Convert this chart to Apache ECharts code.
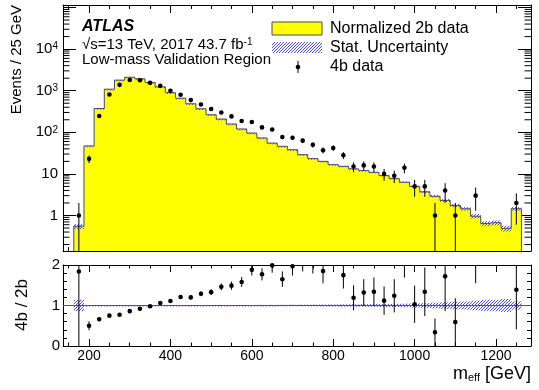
<!DOCTYPE html>
<html>
<head>
<meta charset="utf-8">
<script src="https://cdn.jsdelivr.net/npm/echarts@6/dist/echarts.min.js"></script>
<style>
  html, body { margin: 0; padding: 0; background: #fff; }
  #chart { width: 539px; height: 390px; }
</style>
</head>
<body>
<div id="chart"></div>
<script>
// m_eff bin centres (25 GeV bins)
const binCenters = [175, 200, 225, 250, 275, 300, 325, 350, 375, 400, 425, 450, 475, 500, 525, 550, 575, 600, 625, 650, 675, 700,
  725, 750, 775, 800, 825, 850, 875, 900, 925, 950, 975, 1000, 1025, 1050, 1075, 1100, 1125, 1150, 1175, 1200, 1225, 1250];
// normalized 2b data (yellow histogram)
const hist2b = [0.55, 47, 374, 1087, 1796, 2108, 1930, 1582, 1238, 896, 660, 485, 368, 264, 208, 158, 120, 96, 73, 55, 46, 38,
  29, 23.3, 20, 16.7, 15.2, 13.2, 12, 10.9, 9.1, 7.7, 6.3, 5.0, 3.7, 2.9, 2.3, 1.74, 1.45, 0.96, 0.64, 0.67, 0.49, 1.45];
// relative stat. uncertainty of the 2b histogram
const statRelErr = [0.14, 0.012, 0.012, 0.012, 0.012, 0.012, 0.012, 0.012, 0.012, 0.012, 0.012, 0.012, 0.012, 0.012, 0.012, 0.012, 0.012, 0.012,
  0.014, 0.015, 0.016, 0.018, 0.02, 0.022, 0.024, 0.026, 0.028, 0.03, 0.032, 0.034, 0.037, 0.04, 0.045, 0.05, 0.06, 0.07, 0.08, 0.09,
  0.1, 0.12, 0.14, 0.14, 0.16, 0.1];
// 4b data points
const data4b = [1, 23, 246, 811, 1385, 1810, 1780, 1546, 1312, 995, 798, 595, 467, 362, 300, 241, 187, 177, 131, 117, 77, 74,
  63, 50, 37, 42, 28, 15, 16, 15, 10, 9, 14, 5, 5, 1, 4, 1, 0, 3, 0, 0, 0, 2];
const data4bErr = [1, 4.8, 16, 28, 37, 43, 42, 39, 36, 32, 28, 24, 22, 19, 17, 16, 14, 13, 11, 11, 9, 8.6,
  7.9, 7.1, 6.1, 6.5, 5.3, 3.9, 4, 3.9, 3.2, 3, 3.7, 2.2, 2.2, 1, 2, 1, 0, 1.7, 0, 0, 0, 1.4];
// ratio panel 4b / 2b
const ratio = [1.84, 0.50, 0.66, 0.75, 0.77, 0.86, 0.92, 0.98, 1.06, 1.11, 1.21, 1.20, 1.29, 1.33, 1.46, 1.49, 1.58, 1.88, 1.77, 1.99, 1.65, 1.97,
  2.17, 2.17, 1.85, 2.5, 1.75, 1.19, 1.32, 1.34, 1.12, 1.24, 2.29, 1.03, 1.34, 0.34, 1.72, 0.59, null, 3.1, null, null, null, 1.39];
const ratioErr = [1.84, 0.11, 0.045, 0.03, 0.025, 0.02, 0.025, 0.025, 0.03, 0.035, 0.045, 0.05, 0.06, 0.07, 0.085, 0.1, 0.12, 0.14, 0.15, 0.18, 0.19, 0.23,
  0.33, 0.38, 0.3, 0.39, 0.33, 0.31, 0.33, 0.35, 0.35, 0.41, 0.6, 0.46, 0.6, 0.34, 0.86, 0.59, 0, 1.55, 0, 0, 0, 0.98];
// axis ticks
const xMajorTicks = [200, 400, 600, 800, 1000, 1200];
const xMinorTicks = [150, 250, 300, 350, 450, 500, 550, 650, 700, 750, 850, 900, 950, 1050, 1100, 1150, 1250];
const logDecades = [0.1, 1, 10, 100, 1000, 10000];
const logMinorSteps = [2, 3, 4, 5, 6, 7, 8, 9];

const binWidth = 25;
const xMin = 136, xMax = 1286;
const yMin = 0.14, yMax = 1.15e5;
const FONT = '"Liberation Sans", Arial, sans-serif';
const HIST_LINE = '#4a4a5a';
const HATCH_BLUE = 'rgb(70, 70, 255)';

// blue "////" hatch, drawn pixel by pixel so it stays crisp
function makeHatch() {
  const c = document.createElement('canvas');
  c.width = 3;
  c.height = 3;
  const ctx = c.getContext('2d');
  ctx.clearRect(0, 0, 3, 3);
  ctx.fillStyle = HATCH_BLUE;
  for (let k = 0; k < 3; k++) ctx.fillRect(k, 2 - k, 1, 1);
  return c;
}
const hatch = { image: makeHatch(), repeat: 'repeat' };

const logMinorValues = [];
logDecades.forEach(d => logMinorSteps.forEach(s => {
  const v = d * s;
  if (v > yMin && v < yMax) logMinorValues.push(v);
}));

const chart = echarts.init(document.getElementById('chart'), null, { renderer: 'canvas' });

function xAxisDef(grid, pos, ticks, len, showLine) {
  return {
    type: 'value', gridIndex: grid, position: pos, min: xMin, max: xMax,
    axisLine: { show: showLine, onZero: false, lineStyle: { color: '#000', width: 1 } },
    axisTick: { show: true, inside: true, length: len, customValues: ticks, lineStyle: { color: '#000', width: 1 } },
    axisLabel: { show: false },
    splitLine: { show: false }
  };
}

function logLabel(v) {
  const e = Math.round(Math.log10(v));
  if (Math.abs(Math.log10(v) - e) > 1e-6 || e < 0 || e > 4) return '';
  if (e === 0) return '1';
  if (e === 1) return '10';
  return '{b|10}{s|' + e + '}';
}

// step outline of the whole histogram, in pixel coords
function stepPoints(api, bottom) {
  const pts = [];
  hist2b.forEach((h, i) => {
    const l = api.coord([binCenters[i] - binWidth / 2, h]);
    const r = api.coord([binCenters[i] + binWidth / 2, h]);
    if (i === 0) pts.push([l[0], bottom]);
    pts.push(l, r);
    if (i === hist2b.length - 1) pts.push([r[0], bottom]);
  });
  return pts;
}

function renderHist(params, api) {
  const cs = params.coordSys;
  const pts = stepPoints(api, cs.y + cs.height);
  return {
    type: 'group',
    children: [
      { type: 'polygon', shape: { points: pts }, style: { fill: '#ffff00' } },
      { type: 'polyline', shape: { points: pts }, style: { stroke: HIST_LINE, lineWidth: 1, fill: null } }
    ]
  };
}

function renderBand(params, api) {
  const i = api.value(2);
  const centre = api.value(1);
  const e = statRelErr[i] * centre;
  const lo = api.coord([binCenters[i] - binWidth / 2, centre + e]);
  const hi = api.coord([binCenters[i] + binWidth / 2, centre - e]);
  return {
    type: 'rect',
    shape: { x: lo[0], y: lo[1], width: hi[0] - lo[0], height: Math.max(hi[1] - lo[1], 1.5) },
    style: { fill: hatch, stroke: null }
  };
}

function renderPoints(params, api) {
  const cs = params.coordSys;
  const x = api.value(0), y = api.value(1), e = api.value(2);
  const p = api.coord([x, y]);
  const top = Math.max(api.coord([x, y + e])[1], cs.y);
  let bot = y - e > 0 ? api.coord([x, y - e])[1] : cs.y + cs.height;
  bot = Math.min(bot, cs.y + cs.height);
  const children = [];
  if (bot > top) {
    children.push({ type: 'line', shape: { x1: p[0], y1: top, x2: p[0], y2: bot }, style: { stroke: '#000', lineWidth: 1 } });
  }
  if (p[1] >= cs.y && p[1] <= cs.y + cs.height) {
    children.push({ type: 'circle', shape: { cx: p[0], cy: p[1], r: 2.3 }, style: { fill: '#000' } });
  }
  return { type: 'group', children: children };
}

function renderLogMinor(params, api) {
  const cs = params.coordSys;
  const y = api.coord([xMin, api.value(1)])[1];
  const st = { stroke: '#000', lineWidth: 1 };
  return {
    type: 'group',
    children: [
      { type: 'line', shape: { x1: cs.x, y1: y, x2: cs.x + 6.5, y2: y }, style: st },
      { type: 'line', shape: { x1: cs.x + cs.width - 6.5, y1: y, x2: cs.x + cs.width, y2: y }, style: st }
    ]
  };
}

const histItems = binCenters.map((x, i) => [x, hist2b[i], i]);
const ratioBandItems = binCenters.map((x, i) => [x, 1, i]);
const pointItems = binCenters.map((x, i) => [x, data4b[i], data4bErr[i]]).filter(d => d[1] > 0);
const ratioItems = binCenters.map((x, i) => [x, ratio[i], ratioErr[i]]).filter(d => d[1] !== null);

const option = {
  animation: false,
  backgroundColor: '#fff',
  textStyle: { fontFamily: FONT },
  grid: [
    { left: 63, right: 8, top: 5, height: 246 },
    { left: 63, right: 8, top: 265, height: 81 }
  ],
  xAxis: [
    xAxisDef(0, 'bottom', xMajorTicks, 8, true),
    xAxisDef(0, 'bottom', xMinorTicks, 4, false),
    xAxisDef(0, 'top', xMajorTicks, 8, true),
    xAxisDef(0, 'top', xMinorTicks, 4, false),
    Object.assign(xAxisDef(1, 'bottom', xMajorTicks, 7, true), {
      axisLabel: {
        show: true, customValues: xMajorTicks, fontSize: 14, color: '#000', margin: 3, fontFamily: FONT,
        formatter: v => String(v)
      }
    }),
    xAxisDef(1, 'bottom', xMinorTicks, 3.5, false),
    xAxisDef(1, 'top', xMajorTicks, 7, true),
    xAxisDef(1, 'top', xMinorTicks, 3.5, false)
  ],
  yAxis: [
    {
      type: 'log', logBase: 10, gridIndex: 0, position: 'left', min: yMin, max: yMax,
      axisLine: { show: true, onZero: false, lineStyle: { color: '#000' } },
      axisTick: { show: true, inside: true, length: 13, lineStyle: { color: '#000' } },
      axisLabel: {
        formatter: logLabel, fontSize: 15, color: '#000', margin: 5, fontFamily: FONT,
        rich: { b: { fontSize: 15, fontFamily: FONT, verticalAlign: 'bottom' }, s: { fontSize: 10, fontFamily: FONT, verticalAlign: 'top' } }
      },
      splitLine: { show: false }
    },
    {
      type: 'log', logBase: 10, gridIndex: 0, position: 'right', min: yMin, max: yMax,
      axisLine: { show: true, onZero: false, lineStyle: { color: '#000' } },
      axisTick: { show: true, inside: true, length: 13, lineStyle: { color: '#000' } },
      axisLabel: { show: false },
      splitLine: { show: false }
    },
    {
      type: 'value', gridIndex: 1, position: 'left', min: 0, max: 2, interval: 1,
      axisLine: { show: true, onZero: false, lineStyle: { color: '#000' } },
      axisTick: { show: true, inside: true, length: 8, lineStyle: { color: '#000' } },
      minorTick: { show: true, splitNumber: 5, length: 4, lineStyle: { color: '#000' } },
      axisLabel: { fontSize: 15, color: '#000', margin: 3, fontFamily: FONT },
      splitLine: { show: false }
    },
    {
      type: 'value', gridIndex: 1, position: 'right', min: 0, max: 2, interval: 1,
      axisLine: { show: true, onZero: false, lineStyle: { color: '#000' } },
      axisTick: { show: true, inside: true, length: 8, lineStyle: { color: '#000' } },
      minorTick: { show: true, splitNumber: 5, length: 4, lineStyle: { color: '#000' } },
      axisLabel: { show: false },
      splitLine: { show: false }
    }
  ],
  series: [
    {
      name: 'Normalized 2b data', type: 'custom', xAxisIndex: 0, yAxisIndex: 0, z: 1, silent: true,
      encode: { x: 0, y: 1 }, renderItem: renderHist, data: [histItems[0]]
    },
    {
      name: 'Stat. Uncertainty', type: 'custom', xAxisIndex: 0, yAxisIndex: 0, z: 3, silent: true,
      encode: { x: 0, y: 1 }, renderItem: renderBand, data: histItems
    },
    {
      name: 'log minor ticks', type: 'custom', xAxisIndex: 0, yAxisIndex: 0, z: 5, silent: true,
      encode: { x: 0, y: 1 }, renderItem: renderLogMinor, data: logMinorValues.map(v => [xMin, v])
    },
    {
      name: '4b data', type: 'custom', xAxisIndex: 0, yAxisIndex: 0, z: 4, silent: true,
      encode: { x: 0, y: 1 }, renderItem: renderPoints, data: pointItems
    },
    {
      name: 'ratio band', type: 'custom', xAxisIndex: 4, yAxisIndex: 2, z: 3, silent: true,
      encode: { x: 0, y: 1 }, renderItem: renderBand, data: ratioBandItems,
      markLine: {
        silent: true, symbol: 'none', label: { show: false }, z: 2,
        lineStyle: { color: '#555', width: 1, type: 'solid' },
        data: [{ yAxis: 1 }]
      }
    },
    {
      name: 'ratio', type: 'custom', xAxisIndex: 4, yAxisIndex: 2, z: 4, silent: true,
      encode: { x: 0, y: 1 }, renderItem: renderPoints, data: ratioItems
    }
  ],
  graphic: [
    { type: 'text', x: 82, y: 27, style: { text: 'ATLAS', fontSize: 16, fontWeight: 'bold', fontStyle: 'italic', fontFamily: FONT, fill: '#000', verticalAlign: 'middle' } },
    {
      type: 'text', x: 82, y: 45, style: {
        text: '{n|\u221As=13 TeV, 2017 43.7 fb}{s|-1}', fill: '#000', verticalAlign: 'middle',
        rich: { n: { fontSize: 15, fontFamily: FONT, verticalAlign: 'bottom' }, s: { fontSize: 10, fontFamily: FONT, verticalAlign: 'top' } }
      }
    },
    { type: 'text', x: 82, y: 60, style: { text: 'Low-mass Validation Region', fontSize: 15, fontFamily: FONT, fill: '#000', verticalAlign: 'middle' } },
    { type: 'rect', x: 272, y: 22, shape: { width: 50, height: 13 }, style: { fill: '#ffff00', stroke: HIST_LINE, lineWidth: 1 } },
    { type: 'text', x: 330, y: 28.5, style: { text: 'Normalized 2b data', fontSize: 16, fontFamily: FONT, fill: '#000', verticalAlign: 'middle' } },
    { type: 'rect', x: 272, y: 42, shape: { width: 50, height: 11 }, style: { fill: hatch, stroke: null } },
    { type: 'text', x: 330, y: 48, style: { text: 'Stat. Uncertainty', fontSize: 16, fontFamily: FONT, fill: '#000', verticalAlign: 'middle' } },
    { type: 'line', shape: { x1: 298, y1: 61, x2: 298, y2: 73 }, style: { stroke: '#000', lineWidth: 1 } },
    { type: 'circle', shape: { cx: 298, cy: 67, r: 2.3 }, style: { fill: '#000' } },
    { type: 'text', x: 330, y: 67, style: { text: '4b data', fontSize: 16, fontFamily: FONT, fill: '#000', verticalAlign: 'middle' } },
    { type: 'text', x: 17, y: 5, rotation: Math.PI / 2, style: { text: 'Events / 25 GeV', fontSize: 15, fontFamily: FONT, fill: '#000', align: 'right', verticalAlign: 'middle' } },
    { type: 'text', x: 22, y: 305, rotation: Math.PI / 2, style: { text: '4b / 2b', fontSize: 17, fontFamily: FONT, fill: '#000', align: 'center', verticalAlign: 'middle' } },
    {
      type: 'text', x: 531, y: 374, style: {
        text: '{m|m}{e|eff}{m| [GeV]}', fill: '#000', align: 'right', verticalAlign: 'middle',
        rich: { m: { fontSize: 18, fontFamily: FONT, verticalAlign: 'top' }, e: { fontSize: 11, fontFamily: FONT, verticalAlign: 'bottom' } }
      }
    }
  ]
};

chart.setOption(option);
</script>
</body>
</html>
